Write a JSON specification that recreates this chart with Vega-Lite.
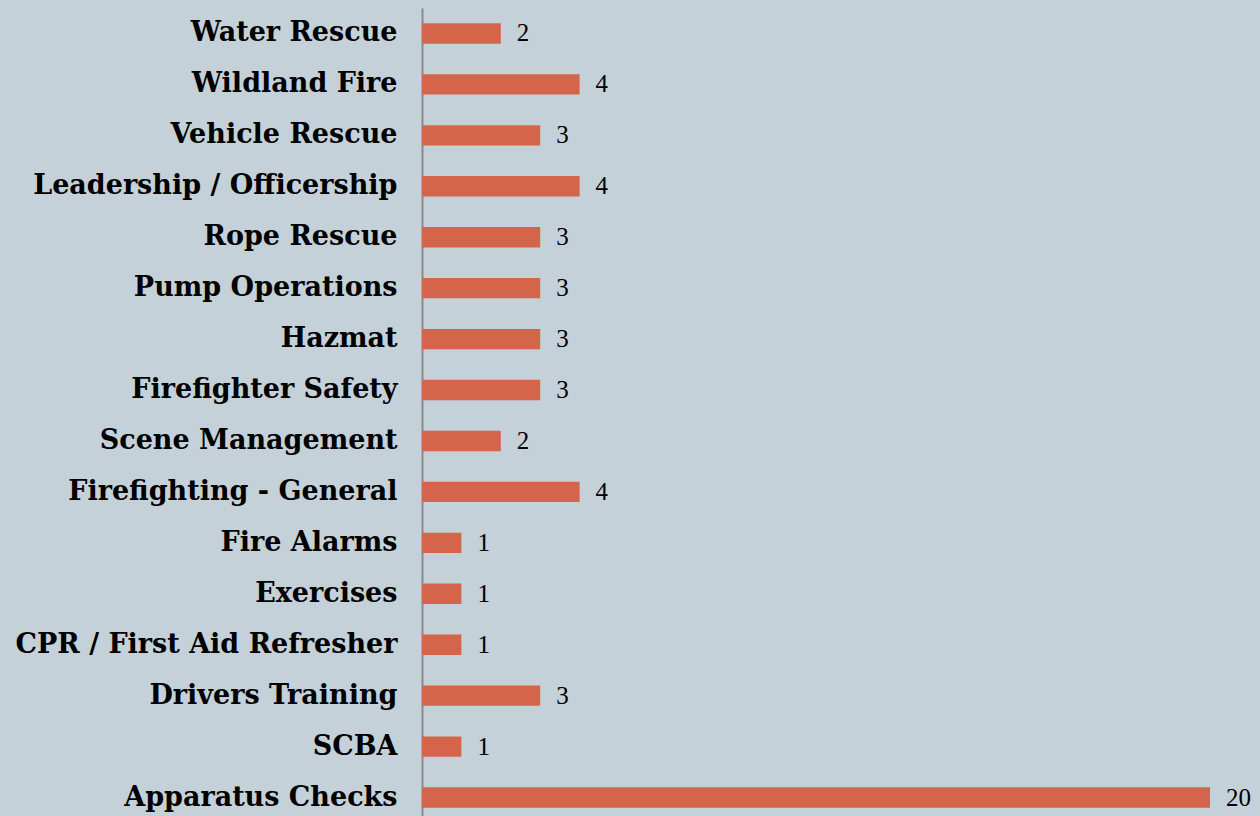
{
  "$schema": "https://vega.github.io/schema/vega-lite/v6.json",
  "width": 788,
  "height": 815,
  "autosize": {"type": "none"},
  "padding": {"left": 422, "top": 8, "right": 50, "bottom": 0},
  "background": "#c5d1d8",
  "config": {"view": {"stroke": null}},
  "data": {
    "values": [
      {"category": "Water Rescue", "count": 2},
      {"category": "Wildland Fire", "count": 4},
      {"category": "Vehicle Rescue", "count": 3},
      {"category": "Leadership / Officership", "count": 4},
      {"category": "Rope Rescue", "count": 3},
      {"category": "Pump Operations", "count": 3},
      {"category": "Hazmat", "count": 3},
      {"category": "Firefighter Safety", "count": 3},
      {"category": "Scene Management", "count": 2},
      {"category": "Firefighting - General", "count": 4},
      {"category": "Fire Alarms", "count": 1},
      {"category": "Exercises", "count": 1},
      {"category": "CPR / First Aid Refresher", "count": 1},
      {"category": "Drivers Training", "count": 3},
      {"category": "SCBA", "count": 1},
      {"category": "Apparatus Checks\u2002", "count": 20}
    ]
  },
  "encoding": {
    "y": {
      "field": "category",
      "type": "nominal",
      "sort": null,
      "scale": {"paddingInner": 0.6, "paddingOuter": 0.3},
      "axis": {
        "title": null,
        "ticks": false,
        "domain": true,
        "domainColor": "#8a8a8a",
        "domainWidth": 2,
        "labelFont": "DejaVu Serif",
        "labelFontWeight": "bold",
        "labelFontSize": 27,
        "labelColor": "#000000",
        "labelPadding": 25,
        "labelLimit": 0
      }
    },
    "x": {
      "field": "count",
      "type": "quantitative",
      "scale": {"domain": [0, 20], "nice": false},
      "axis": null
    }
  },
  "layer": [
    {"mark": {"type": "bar", "color": "#d4654b"}},
    {
      "mark": {
        "type": "text",
        "align": "left",
        "baseline": "middle",
        "dx": 16,
        "font": "Liberation Serif",
        "fontSize": 25,
        "color": "#000000"
      },
      "encoding": {"text": {"field": "count", "type": "quantitative"}}
    }
  ]
}
